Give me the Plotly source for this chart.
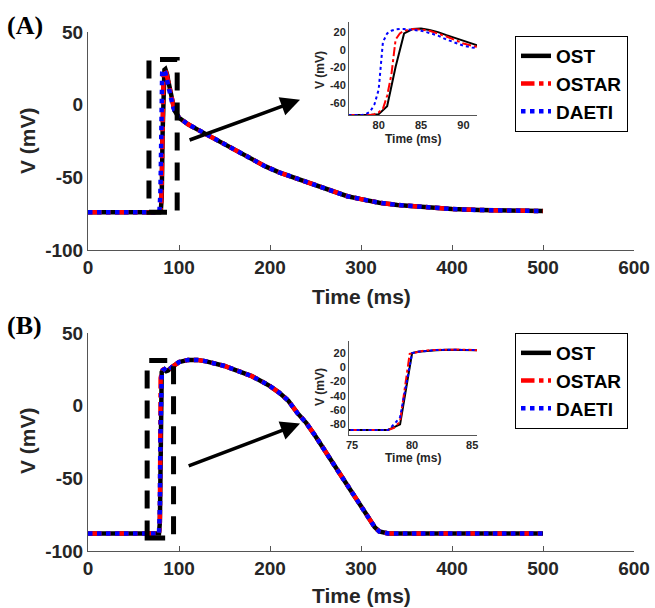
import plotly.graph_objects as go

# ---------------- Panel A data (ms, mV) ----------------
tA_ost = [0, 79, 80, 81, 82, 83, 84, 85, 86, 87, 88, 89, 90, 91, 92, 93]
vA_ost = [-74, -74, -73, -64, -19, 19, 24, 24.5, 23, 20.5, 17, 13.5, 10, 7, 4, 1]
tA_ostar = [0, 79, 79.5, 80, 80.5, 81, 81.5, 82, 82.5, 83, 84, 85, 86, 87, 88, 89, 90, 91, 92, 93]
vA_ostar = [-74, -74, -73, -71, -67, -52, -28, 12, 19, 22, 24, 23.5, 22, 19, 15.5, 11.5, 7.5, 5, 2.5, 0]
tA_daeti = [0, 78, 78.5, 79, 79.5, 80, 80.5, 81, 81.5, 82, 82.5, 83, 84, 85, 86, 87, 88, 89, 90, 91, 92, 93]
vA_daeti = [-74, -74, -73, -70, -62, -45, 9, 19, 22, 23.5, 24, 24, 23, 22, 19.5, 16.5, 12, 8.5, 5, 3, 1.5, -0.5]
tA_tail = [95, 100, 110, 120, 130, 140, 150, 165, 180, 195, 210, 225, 240, 255, 270, 285,
           300, 320, 340, 360, 380, 400, 430, 460, 500]
vA_tail = [-4, -9, -13.5, -17, -20.5, -24, -27.5, -32.5, -38, -42.5, -46.6, -50, -53.5, -57, -60, -63,
           -65, -67.5, -69, -70, -71, -71.8, -72.5, -73, -73.2]

# ---------------- Panel B data (ms, mV) ----------------
tB_ost = [0, 78, 79, 80, 80.5, 81, 82, 83, 84]
vB_ost = [-88, -88, -80, 20, 22, 23, 24, 24.8, 25]
tB_ostar = [0, 78, 78.5, 79, 79.8, 80.5, 81, 82, 83, 84]
vB_ostar = [-88, -88, -85, -76, 19, 22, 23.5, 24.5, 25, 25]
tB_daeti = [0, 78, 78.5, 79, 79.5, 80, 80.5, 81, 82, 83, 84]
vB_daeti = [-88, -88, -80, -70, -25, 20, 22, 23, 24.3, 24.8, 25]
tB_tail = [86, 88, 92, 96, 100, 110, 120, 130, 140, 150, 160, 170, 180, 190, 200, 210, 220, 230,
           240, 250, 260, 270, 280, 290, 300, 310, 315, 320, 325, 330, 350, 400, 450, 500]
vB_tail = [23.8, 24.2, 26.5, 28.5, 30, 31.5, 31.5, 30.5, 29, 27.3, 25, 22.8, 20.3, 17, 13.5, 9, 3.5, -5,
           -12, -21, -31, -40.5, -50, -59.5, -69, -79, -83.5, -86.5, -87.5, -88, -88, -88, -88, -88]

series_names = ["OST", "OSTAR", "DAETI"]
series_colors = ["#000000", "#FF0000", "#0000FF"]
series_dash = ["solid", "dashdot", "dot"]

main_x_ticks = [0, 100, 200, 300, 400, 500, 600]
main_x_labels = ["0", "100", "200", "300", "400", "500", "600"]
main_y_ticks = [-100, -50, 0, 50]
main_y_labels = ["-100", "-50", "0", "50"]
insetA_x_ticks = [80, 85, 90]
insetA_x_labels = ["80", "85", "90"]
insetA_y_ticks = [-60, -40, -20, 0, 20]
insetA_y_labels = ["-60", "-40", "-20", "0", "20"]
insetB_x_ticks = [75, 80, 85]
insetB_x_labels = ["75", "80", "85"]
insetB_y_ticks = [-80, -60, -40, -20, 0, 20]
insetB_y_labels = ["-80", "-60", "-40", "-20", "0", "20"]

W, H = 655, 608
def px(x):
    return x / W
def py(y):
    return 1 - y / H

FONT = "Liberation Sans, Arial, sans-serif"
TXT = "#262626"
AX = "#555555"

fig = go.Figure()

panels = [
    ("A", [(tA_ost, vA_ost), (tA_ostar, vA_ostar), (tA_daeti, vA_daeti)], tA_tail, vA_tail, "x", "y", "x2", "y2", "legend"),
    ("B", [(tB_ost, vB_ost), (tB_ostar, vB_ostar), (tB_daeti, vB_daeti)], tB_tail, vB_tail, "x3", "y3", "x4", "y4", "legend2"),
]

for label, early, ttail, vtail, xm, ym, xi, yi, leg in panels:
    for i, (te, ve) in enumerate(early):
        t = list(te) + list(ttail)
        v = list(ve) + list(vtail)
        fig.add_trace(go.Scatter(
            x=t, y=v, mode="lines", name=series_names[i], xaxis=xm, yaxis=ym, legend=leg,
            line=dict(color=series_colors[i], width=4.5, dash=series_dash[i]), showlegend=True))
    for i, (te, ve) in enumerate(early):
        t = list(te) + list(ttail)
        v = list(ve) + list(vtail)
        fig.add_trace(go.Scatter(
            x=t, y=v, mode="lines", name=series_names[i], xaxis=xi, yaxis=yi,
            line=dict(color=series_colors[i], width=2, dash=series_dash[i]), showlegend=False))

main_dom_x = [px(88), px(634)]
inset_dom_x = [px(349), px(477)]

def main_axes(dom_y, xa, ya):
    xd = dict(domain=main_dom_x, anchor=ya, range=[0, 600], tickvals=main_x_ticks, ticktext=main_x_labels,
              automargin=False, showline=True, linecolor=AX, linewidth=1, ticks="inside", ticklen=5,
              tickcolor=AX, showgrid=False, zeroline=False,
              tickfont=dict(family=FONT, size=19, color=TXT, weight="bold"))
    yd = dict(domain=dom_y, anchor=xa, range=[-100, 50], tickvals=main_y_ticks, ticktext=main_y_labels,
              automargin=False, showline=True, linecolor=AX, linewidth=1, ticks="", showgrid=False,
              zeroline=False, tickfont=dict(family=FONT, size=19, color=TXT, weight="bold"))
    return xd, yd

def inset_axes(dom_y, xa, ya, xr, yr, xt, xl, yt, yl):
    xd = dict(domain=inset_dom_x, anchor=ya, range=xr, tickvals=xt, ticktext=xl, automargin=False,
              showline=True, linecolor=AX, linewidth=1, ticks="", showgrid=False, zeroline=False,
              tickfont=dict(family=FONT, size=11, color=TXT, weight="bold"))
    yd = dict(domain=dom_y, anchor=xa, range=yr, tickvals=yt, ticktext=yl, automargin=False,
              showline=True, linecolor=AX, linewidth=1, ticks="", showgrid=False, zeroline=False,
              tickfont=dict(family=FONT, size=11, color=TXT, weight="bold"))
    return xd, yd

x1, y1 = main_axes([py(250), py(32)], "x", "y")
x2, y2 = inset_axes([py(115), py(22)], "x2", "y2", [76.5, 91.6], [-74, 32],
                    insetA_x_ticks, insetA_x_labels, insetA_y_ticks, insetA_y_labels)
x3, y3 = main_axes([py(551), py(333)], "x3", "y3")
x4, y4 = inset_axes([py(435), py(341)], "x4", "y4", [74.75, 85.4], [-95, 37],
                    insetB_x_ticks, insetB_x_labels, insetB_y_ticks, insetB_y_labels)

legend_style = dict(xanchor="right", yanchor="top", bgcolor="white", bordercolor="black", borderwidth=1,
                    font=dict(family=FONT, size=19, color="black", weight="bold"),
                    tracegroupgap=0, itemwidth=30)

fig.update_layout(
    width=W, height=H, margin=dict(l=0, r=0, t=0, b=0, autoexpand=False),
    paper_bgcolor="white", plot_bgcolor="rgba(0,0,0,0)",
    xaxis=x1, yaxis=y1, xaxis2=x2, yaxis2=y2, xaxis3=x3, yaxis3=y3, xaxis4=x4, yaxis4=y4,
    legend=dict(x=px(628), y=py(36), **legend_style),
    legend2=dict(x=px(628), y=py(333), **legend_style),
)

# dashed zoom rectangles
rect_A = dict(x0=67, x1=98, y0=-74, y1=31)
rect_B = dict(x0=65, x1=94, y0=-91, y1=31)
for r, xr, yr in [(rect_A, "x", "y"), (rect_B, "x3", "y3")]:
    fig.add_shape(type="rect", xref=xr, yref=yr, **r,
                  line=dict(color="black", width=5, dash="18px,12px"), layer="above")

# arrows
arrow_A = dict(tail=(110, -24.7), head=(233, 3.4))
arrow_B = dict(tail=(109, -41.8), head=(233, -12.3))
for a, xr, yr in [(arrow_A, "x", "y"), (arrow_B, "x3", "y3")]:
    fig.add_annotation(x=a["head"][0], y=a["head"][1], ax=a["tail"][0], ay=a["tail"][1],
                       xref=xr, yref=yr, axref=xr, ayref=yr, text="", showarrow=True,
                       arrowhead=2, arrowsize=1.1, arrowwidth=3.5, arrowcolor="black")

def txt(text, x, y, size, angle=0, family=FONT, color=TXT, xanchor="center"):
    fig.add_annotation(text=text, x=px(x), y=py(y), xref="paper", yref="paper", showarrow=False,
                       textangle=angle, xanchor=xanchor, yanchor="middle",
                       font=dict(family=family, size=size, color=color, weight="bold"))

# axis titles
txt("Time (ms)", 361, 296, 21)
txt("V (mV)", 27, 141, 21, angle=-90)
txt("Time (ms)", 361, 595, 21)
txt("V (mV)", 27, 441, 21, angle=-90)
# inset titles
txt("Time (ms)", 413, 139, 12)
txt("V (mV)", 320, 70, 12, angle=-90)
txt("Time (ms)", 413, 458, 12)
txt("V (mV)", 320, 387, 12, angle=-90)
# panel labels
txt("(A)", 5, 26, 26, family="Liberation Serif, Times New Roman, serif", color="black", xanchor="left")
txt("(B)", 5, 325, 26, family="Liberation Serif, Times New Roman, serif", color="black", xanchor="left")

# remove the default page margin so the 655x608 figure fills the window exactly
fig.write_html("out.html", config={"displayModeBar": False},
               post_script="document.body.style.margin='0';document.body.style.overflow='hidden';")
